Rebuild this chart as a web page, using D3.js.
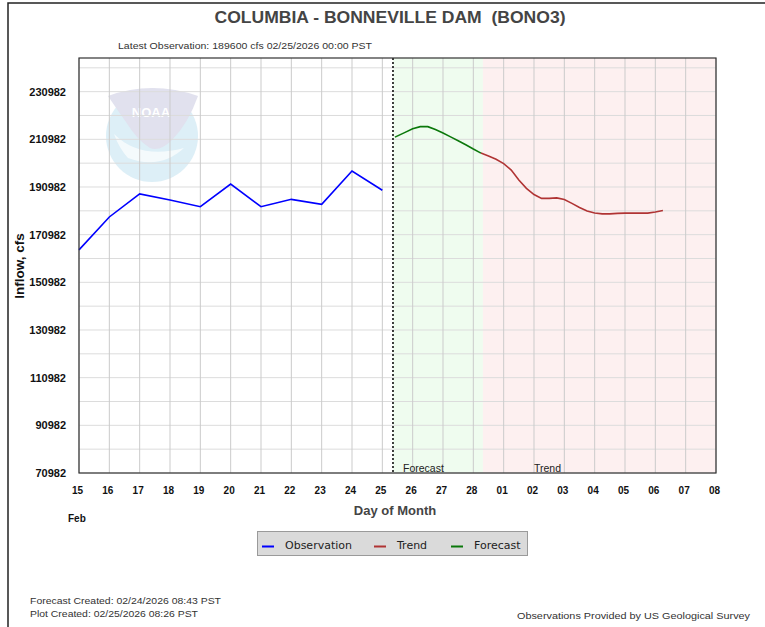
<!DOCTYPE html>
<meta charset="utf-8">
<style>
body { margin: 0; background: #fff; }
text { font-family: "Liberation Sans", Arial, sans-serif; }
</style>
<body>
<script src="https://d3js.org/d3.v7.min.js"></script>
<script>

// observed inflow, daily
var obsTimes = ["2026-02-15T00:00","2026-02-16T00:00","2026-02-17T00:00","2026-02-18T00:00",
  "2026-02-19T00:00","2026-02-20T00:00","2026-02-21T00:00","2026-02-22T00:00",
  "2026-02-23T00:00","2026-02-24T00:00","2026-02-25T00:00"];
var obsValues = [164600, 178400, 188100, 185500, 182700, 192200, 182700, 185800, 183700, 197700, 189600];

// forecast, 6-hourly
var fcstTimes = ["2026-02-25T10:00","2026-02-25T18:00","2026-02-26T00:00","2026-02-26T06:00",
  "2026-02-26T12:00","2026-02-26T18:00","2026-02-27T00:00","2026-02-27T06:00",
  "2026-02-27T12:00","2026-02-27T18:00","2026-02-28T00:00","2026-02-28T06:00"];
var fcstValues = [211900, 213900, 215400, 216300, 216300, 215100, 213600, 212000, 210400, 208700, 206900, 205200];

// trend, 6-hourly
var trendTimes = ["2026-02-28T06:00","2026-02-28T12:00","2026-02-28T18:00","2026-03-01T00:00",
  "2026-03-01T06:00","2026-03-01T12:00","2026-03-01T18:00","2026-03-02T00:00","2026-03-02T06:00",
  "2026-03-02T12:00","2026-03-02T18:00","2026-03-03T00:00","2026-03-03T06:00","2026-03-03T12:00",
  "2026-03-03T18:00","2026-03-04T00:00","2026-03-04T06:00","2026-03-04T12:00","2026-03-04T18:00",
  "2026-03-05T00:00","2026-03-05T06:00","2026-03-05T12:00","2026-03-05T18:00","2026-03-06T00:00",
  "2026-03-06T06:00"];
var trendValues = [205200, 204000, 202600, 200800, 198100, 193900, 190400, 187800, 186200,
  186200, 186400, 185700, 184100, 182400, 180900, 180100, 179700, 179700, 179900,
  180000, 180000, 180000, 180000, 180500, 181100];

var xDomain = ["2026-02-15T00:00", "2026-03-08T00:00"];
var yDomain = [70982, 245100];
var yTickValues = [70982, 90982, 110982, 130982, 150982, 170982, 190982, 210982, 230982];
var nowTime = "2026-02-25T08:26";

var legendNames = ["Observation", "Trend", "Forecast"];
var legendColors = ["#0000ff", "#b03434", "#0b780b"];

var parse = d3.utcParse("%Y-%m-%dT%H:%M");
function pairs(t, v) { return t.map(function(d, i) { return {t: parse(d), v: v[i]}; }); }
var obs = pairs(obsTimes, obsValues),
    fcst = pairs(fcstTimes, fcstValues),
    trend = pairs(trendTimes, trendValues);

var W = 765, H = 627;
var plot = {left: 79, right: 716, top: 58, bottom: 473};

var svg = d3.select("body").append("svg")
    .attr("width", W).attr("height", H);

svg.append("rect").attr("width", W).attr("height", H).attr("fill", "#fff");

// outer frame (only top and left visible)
svg.append("path")
    .attr("d", "M8," + H + "V3H" + W)
    .attr("fill", "none").attr("stroke", "#222").attr("stroke-width", 1.5);

var x = d3.scaleUtc().domain(xDomain.map(parse)).range([plot.left, plot.right]);
var y = d3.scaleLinear().domain(yDomain).range([plot.bottom, plot.top]);

// shaded forecast and trend regions
var fcstEnd = fcst[fcst.length - 1].t;
svg.append("rect")
    .attr("x", x(parse(nowTime))).attr("y", plot.top)
    .attr("width", x(fcstEnd) - x(parse(nowTime)) + 2).attr("height", plot.bottom - plot.top)
    .attr("fill", "#effcef");
svg.append("rect")
    .attr("x", x(fcstEnd) + 2).attr("y", plot.top)
    .attr("width", plot.right - x(fcstEnd) - 2).attr("height", plot.bottom - plot.top)
    .attr("fill", "#fdf0f0");

// NOAA watermark
var logo = svg.append("g").attr("opacity", 0.85);
logo.append("circle").attr("cx", 152).attr("cy", 136).attr("r", 46).attr("fill", "#d8edf6");
logo.append("path")
    .attr("d", "M108,96 Q152,80 198,96 Q188,124 172,140 Q160,152 150,148 Q137,140 126,122 Q116,108 108,96Z")
    .attr("fill", "#dcdcec");
logo.append("path")
    .attr("d", "M114,134 Q140,160 184,148 Q160,170 128,158 Q119,148 114,134Z")
    .attr("fill", "#ffffff").attr("opacity", 0.7);
logo.append("text").attr("x", 151).attr("y", 117).attr("text-anchor", "middle")
    .style("font-size", "13px").style("font-weight", "bold").attr("fill", "#fff")
    .text("NOAA");

// grid
svg.append("g").selectAll("line")
    .data(d3.range(70982, yDomain[1], 10000))
  .enter().append("line")
    .attr("x1", plot.left).attr("x2", plot.right)
    .attr("y1", function(d) { return y(d); }).attr("y2", function(d) { return y(d); })
    .attr("stroke", "#dcdcdc").attr("stroke-width", 1);
svg.append("g").selectAll("line")
    .data(x.ticks(d3.utcDay.every(1)))
  .enter().append("line")
    .attr("y1", plot.top).attr("y2", plot.bottom)
    .attr("x1", function(d) { return x(d); }).attr("x2", function(d) { return x(d); })
    .attr("stroke", "#cbcbcb").attr("stroke-width", 1);

// now marker
svg.append("line")
    .attr("x1", x(parse(nowTime))).attr("x2", x(parse(nowTime)))
    .attr("y1", plot.top).attr("y2", plot.bottom)
    .attr("stroke", "#000").attr("stroke-width", 1.5).attr("stroke-dasharray", "2,2");

// region labels
svg.append("text").attr("x", 403).attr("y", 472)
    .style("font-size", "10.5px").attr("fill", "#222").text("Forecast");
svg.append("text").attr("x", 534).attr("y", 472)
    .style("font-size", "10.5px").attr("fill", "#222").text("Trend");

// lines
var line = d3.line().x(function(d) { return x(d.t); }).y(function(d) { return y(d.v); });
svg.append("path").datum(obs).attr("d", line)
    .attr("fill", "none").attr("stroke", legendColors[0]).attr("stroke-width", 1.6);
svg.append("path").datum(trend).attr("d", line)
    .attr("fill", "none").attr("stroke", legendColors[1]).attr("stroke-width", 1.6);
svg.append("path").datum(fcst).attr("d", line)
    .attr("fill", "none").attr("stroke", legendColors[2]).attr("stroke-width", 1.6);

// plot border
svg.append("rect")
    .attr("x", plot.left).attr("y", plot.top)
    .attr("width", plot.right - plot.left).attr("height", plot.bottom - plot.top)
    .attr("fill", "none").attr("stroke", "#333").attr("stroke-width", 1.2);

// axes
var xAxis = svg.append("g")
    .attr("transform", "translate(0," + plot.bottom + ")")
    .call(d3.axisBottom(x).ticks(d3.utcDay.every(1)).tickFormat(d3.utcFormat("%d"))
      .tickSize(0).tickPadding(14));
xAxis.select(".domain").remove();
xAxis.selectAll("text")
    .style("font-size", "10px").style("font-weight", "bold")
    .style("font-family", "'Liberation Sans', Arial, sans-serif")
    .attr("fill", "#111").attr("dx", "-2");

var yAxis = svg.append("g")
    .attr("transform", "translate(" + plot.left + ",0)")
    .call(d3.axisLeft(y).tickValues(yTickValues).tickFormat(d3.format("d"))
      .tickSize(0).tickPadding(13));
yAxis.select(".domain").remove();
yAxis.selectAll("text")
    .style("font-size", "11px").style("font-weight", "bold")
    .style("font-family", "'Liberation Sans', Arial, sans-serif")
    .attr("fill", "#111");

// titles
svg.append("text").attr("x", 390).attr("y", 23).attr("text-anchor", "middle")
    .attr("textLength", 351).attr("lengthAdjust", "spacingAndGlyphs")
    .style("white-space", "pre")
    .style("font-size", "17px").style("font-weight", "bold").attr("fill", "#444")
    .text("COLUMBIA - BONNEVILLE DAM  (BONO3)");
svg.append("text").attr("x", 118).attr("y", 49)
    .attr("textLength", 254).attr("lengthAdjust", "spacingAndGlyphs")
    .style("font-size", "9.5px").attr("fill", "#333")
    .text("Latest Observation: 189600 cfs 02/25/2026 00:00 PST");

svg.append("text")
    .attr("transform", "translate(24,266) rotate(-90)")
    .attr("text-anchor", "middle")
    .style("font-size", "13.5px").style("font-weight", "bold").attr("fill", "#111")
    .text("Inflow, cfs");

svg.append("text").attr("x", 395).attr("y", 515).attr("text-anchor", "middle")
    .style("font-size", "13px").style("font-weight", "bold").attr("fill", "#444")
    .text("Day of Month");
svg.append("text").attr("x", 68).attr("y", 522)
    .style("font-size", "10px").style("font-weight", "bold").attr("fill", "#111")
    .text("Feb");

// legend
var lg = svg.append("g");
lg.append("rect").attr("x", 257.5).attr("y", 531.5).attr("width", 270).attr("height", 24)
    .attr("fill", "#dadada").attr("stroke", "#9a9a9a");
var lgX = [262, 374, 451];
legendNames.forEach(function(name, i) {
  lg.append("line").attr("x1", lgX[i]).attr("x2", lgX[i] + 12)
      .attr("y1", 546.5).attr("y2", 546.5)
      .attr("stroke", legendColors[i]).attr("stroke-width", 2);
  lg.append("text").attr("x", lgX[i] + 23).attr("y", 549)
      .style("font-family", "'DejaVu Sans', sans-serif").style("font-size", "11px")
      .attr("fill", "#222").text(name);
});

// footer
svg.append("text").attr("x", 30).attr("y", 604)
    .attr("textLength", 191).attr("lengthAdjust", "spacingAndGlyphs")
    .style("font-size", "9.5px").attr("fill", "#333")
    .text("Forecast Created: 02/24/2026 08:43 PST");
svg.append("text").attr("x", 30).attr("y", 617)
    .attr("textLength", 168).attr("lengthAdjust", "spacingAndGlyphs")
    .style("font-size", "9.5px").attr("fill", "#333")
    .text("Plot Created: 02/25/2026 08:26 PST");
svg.append("text").attr("x", 750).attr("y", 619).attr("text-anchor", "end")
    .attr("textLength", 233).attr("lengthAdjust", "spacingAndGlyphs")
    .style("font-size", "9.5px").attr("fill", "#333")
    .text("Observations Provided by US Geological Survey");

</script>
</body>
